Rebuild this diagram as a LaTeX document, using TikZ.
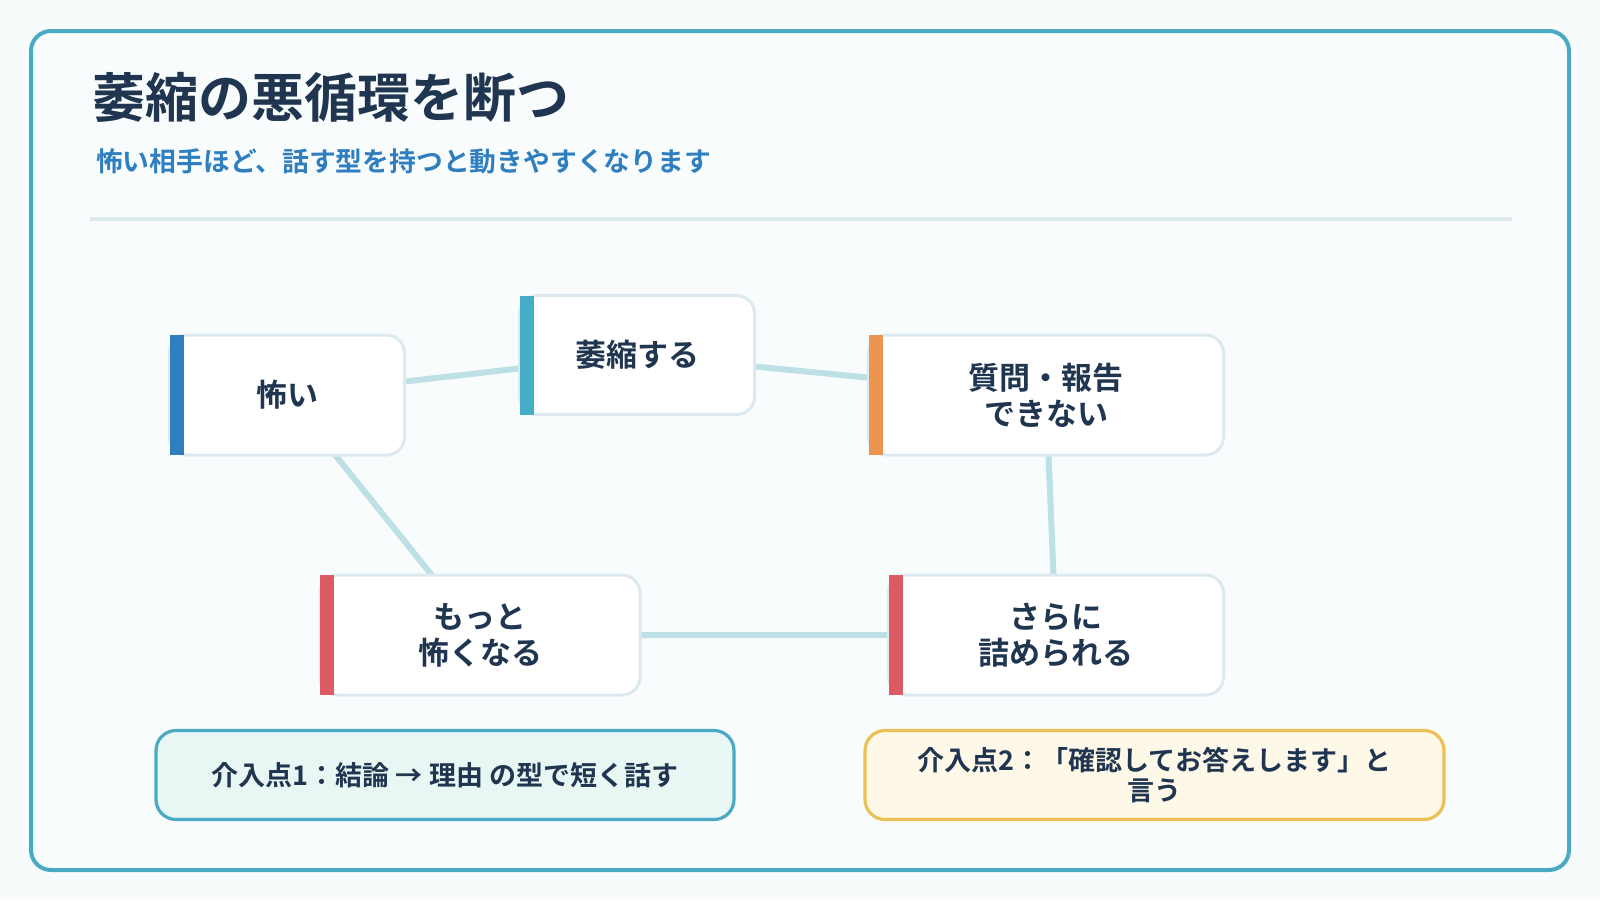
\documentclass[tikz,border=0pt]{standalone}
\usepackage{fontspec}
\setmainfont{Noto Sans CJK JP}[BoldFont={* Bold}]
\newfontfamily\cjkb{Noto Sans CJK JP Bold}
\begin{document}
\definecolor{ink}{HTML}{1F3550}
\definecolor{frame}{HTML}{4AAAC4}
\definecolor{conn}{HTML}{BDE0E6}
\definecolor{nbord}{HTML}{DCEAF0}
\definecolor{cblue}{HTML}{2F7FC0}
\definecolor{cteal}{HTML}{45AEC6}
\definecolor{corange}{HTML}{EC9550}
\definecolor{cred}{HTML}{DC5A62}
\definecolor{pagebg}{HTML}{F8FBFB}
\definecolor{innerbg}{HTML}{F9FCFC}
\definecolor{c1fill}{HTML}{E8F6F4}
\definecolor{c2fill}{HTML}{FEF8E8}
\definecolor{c2bord}{HTML}{EBC155}
\begin{tikzpicture}[x=0.5pt,y=-0.5pt,
  box/.style={draw=nbord,line width=1.5pt,fill=white,rounded corners=9pt,font=\cjkb\fontsize{15.5}{18}\selectfont,text=ink,align=center},
  conn/.style={draw=conn,line width=3pt},
  call/.style={line width=1.6pt,rounded corners=10pt,font=\cjkb\fontsize{13.5}{15}\selectfont,text=ink,align=center}]
\useasboundingbox (0,0) rectangle (1600,900);
\fill[pagebg] (0,0) rectangle (1600,900);
\draw[frame,line width=2pt,rounded corners=10pt,fill=innerbg] (31,31) rectangle (1569,870);
\node[anchor=west,text=ink,font=\cjkb\fontsize{26.5}{29}\selectfont] (t) at (85,97) {萎縮の悪循環を断つ};
\node[anchor=west,text=cblue,font=\cjkb\fontsize{13.4}{15}\selectfont] (s) at (89,161) {怖い相手ほど、話す型を持つと動きやすくなります};
\draw[nbord,line width=2pt] (90,219) -- (1512,219);
\coordinate (ac) at (287,395);
\coordinate (bc) at (637,355);
\coordinate (cc) at (1046,395);
\coordinate (dc) at (1056,635);
\coordinate (ec) at (480,635);
\draw[conn] (ac)--(bc)--(cc)--(dc)--(ec)--(ac);
\node[box,minimum width=117.5pt,minimum height=60pt,text width=110pt] (a) at (ac) {怖い};
\node[box,minimum width=117.5pt,minimum height=59.5pt,text width=110pt] (b) at (bc) {萎縮する};
\node[box,minimum width=177.5pt,minimum height=60pt,text width=160pt] (c) at (cc) {質問・報告\\できない};
\node[box,minimum width=167.5pt,minimum height=60pt,text width=160pt] (d) at (dc) {さらに\\詰められる};
\node[box,minimum width=160pt,minimum height=60pt,text width=150pt] (e) at (ec) {もっと\\怖くなる};
\fill[cblue] (170,335) rectangle (184,455);
\fill[cteal] (520,296) rectangle (534,415);
\fill[corange] (869,335) rectangle (883,455);
\fill[cred] (889,575) rectangle (903,695);
\fill[cred] (320,575) rectangle (334,695);
\node[call,draw=frame,fill=c1fill,minimum width=289pt,minimum height=44.5pt] (p1) at (445,775) {介入点1：結論 → 理由 の型で短く話す};
\node[call,draw=c2bord,fill=c2fill,minimum width=289.5pt,minimum height=44.5pt,text width=275pt] (p2) at (1154.5,775) {介入点2：「確認してお答えします」と\\言う};
\end{tikzpicture}
\end{document}
